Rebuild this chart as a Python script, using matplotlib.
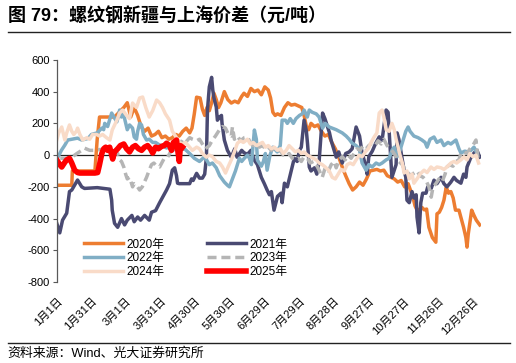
import matplotlib
matplotlib.use("Agg")
import matplotlib.pyplot as plt

plt.rcParams['font.family'] = ['Liberation Sans', 'Noto Sans CJK SC', 'DejaVu Sans']
plt.rcParams['axes.unicode_minus'] = False

# Day-of-year positions (0 = 1月1日) and spread values (元/吨)
tick_days = [0, 30, 60, 90, 120, 150, 180, 210, 240, 270, 300, 330, 360]
tick_labels = ['1月1日', '1月31日', '3月1日', '3月31日', '4月30日', '5月30日', '6月29日',
               '7月29日', '8月28日', '9月27日', '10月27日', '11月26日', '12月26日']

days_2020 = [0, 13, 13.5, 33, 35, 37, 50, 54, 58, 61, 64, 67, 70, 73, 76, 79, 82, 85, 88, 91,
             94, 97, 100, 103, 106, 109, 112, 115, 117, 119, 121, 124, 126, 128, 130, 132, 134,
             136, 138, 140, 142, 145, 148, 151, 154, 157, 160, 162, 165, 168, 171, 174, 177, 180,
             183, 185, 187, 189, 191, 194, 197, 200, 203, 206, 209, 212, 214, 216, 218, 220, 223,
             226, 229, 232, 235, 238, 241, 244, 247, 250, 253, 256, 259, 262, 265, 268, 271, 274,
             277, 280, 283, 286, 289, 292, 295, 298, 301, 304, 306, 308, 310, 312, 314, 316, 318,
             320, 322, 325, 328, 329, 331, 333, 335, 337, 339, 341, 343, 345, 348, 350, 352, 354,
             355, 356, 358, 359, 361, 363, 365, 366]
vals_2020 = [-190, -190, -100, -100, 100, 240, 240, 270, 300, 330, 240, 300, 250, 180, 150, 170,
             120, 130, 150, 110, 120, 100, 110, 130, 120, 150, 170, 140, 170, 260, 365, 360, 290,
             250, 300, 280, 330, 390, 350, 300, 330, 400, 350, 328, 340, 330, 370, 390, 370, 420,
             400, 410, 380, 430, 410, 360, 270, 250, 260, 250, 300, 330, 315, 320, 310, 300, 250,
             180, 160, 200, 180, 190, 150, 120, 130, 80, 40, -13, -75, -130, -180, -220, -200,
             -170, -190, -150, -100, -95, -90, -100, -95, -130, -140, -150, -170, -160, -200,
             -180, -220, -260, -320, -350, -340, -330, -345, -340, -455, -520, -549, -370, -360,
             -330, -284, -202, -240, -230, -270, -347, -347, -400, -455, -520, -580, -500, -400,
             -347, -380, -410, -430, -440]

days_2021 = [0, 2.6, 5, 8.6, 11, 13, 18, 21.6, 24, 35, 46, 47.5, 48, 50, 52.7, 56, 58.7, 61, 65,
             67, 70, 72.5, 76, 78.6, 80, 82, 85.5, 89, 92, 95, 97.6, 100, 102, 103.6, 104.5, 106,
             115, 116.6, 118, 121, 123.5, 126, 128, 129.5, 130.4, 132, 134, 135, 136, 138, 139,
             141, 142.5, 143, 145, 147.7, 151, 154, 156, 160, 162, 165, 168, 171, 173.6, 177,
             179.6, 182, 184, 185.7, 188, 191, 194, 195, 197, 199.5, 203, 205.5, 208, 210, 211.6,
             214, 216, 217, 218.5, 220, 223, 225, 227, 230, 232, 236, 237.5, 241.8, 244, 247, 250,
             253, 255.6, 259, 262, 264, 267.6, 268.5, 270, 273, 276, 279, 281.5, 285, 286.7,
             287.6, 289, 290, 293.6, 294.5, 296, 299, 300.5, 302, 303, 305, 307.4, 309, 311,
             311.7, 313.5, 315, 316.6, 319.5, 321, 324, 326.4, 329, 332.5, 335, 337.6, 341, 343.7,
             346, 349.7, 352, 354, 355, 358, 361, 363.6, 366]
vals_2021 = [-430, -490, -410, -366, -230, -220, -157, -200, -210, -205, -215, -284, -347, -430,
             -455, -400, -440, -410, -380, -420, -390, -410, -380, -400, -410, -360, -350, -300,
             -260, -220, -180, -95, -80, -130, -177, -180, -180, -150, -160, -115, -145, -145,
             -120, -13, 284, 430, 490, 410, 360, 303, 220, 240, 250, 200, 95, 30, -13, 40, -13,
             30, 15, 5, 30, -32, -60, -140, -180, -220, -250, -230, -347, -260, -240, -300, -177,
             -200, -95, -20, -40, 30, 50, 220, 150, 70, -75, -100, -80, -120, -40, 265, 230, 140,
             90, -13, 20, -50, 10, 20, 40, 177, 120, 20, -75, -120, -10, 25, 75, 115, 95, 284,
             270, 150, -20, -140, -60, 140, 100, -30, -95, -140, -284, -300, -230, -270, -250,
             -390, -490, -300, -240, -240, -200, -210, -158, -180, -140, -180, -200, -170, -140,
             -160, -177, -120, -140, -75, -20, 13, 30, -13]

days_2022 = [1, 4, 7, 9.5, 13, 18, 21.6, 27, 30, 35, 39, 40.6, 41.5, 44, 46, 47.5, 50, 52, 53.5,
             54.4, 56, 57, 58.7, 60.4, 61, 63, 65.6, 67, 69, 70, 71.7, 73.4, 75, 77.7, 80, 83,
             85.5, 89, 91.5, 95, 97.6, 100, 103.6, 106, 110.5, 115, 119, 123.5, 128, 132, 134.7,
             138, 141, 145, 147.7, 149.4, 152, 154.6, 158, 160, 162.3, 165, 166.7, 168.4, 171,
             172.7, 173.6, 177, 178.8, 180.5, 182, 184.5, 187, 190.8, 193.4, 195, 197.8, 199.5,
             202, 204.7, 207, 210, 212.4, 214, 216.8, 218.5, 221, 224.5, 227, 230, 232.3, 235.8,
             238.3, 241.8, 244.4, 247, 250.4, 253, 255.6, 259, 261.7, 264.2, 267.7, 270, 272.9,
             276.3, 279, 281.5, 285, 287.6, 290, 292, 294.5, 297, 300.5, 302, 304, 305.7, 309,
             312.6, 316, 318.7, 320.4, 323, 326.4, 329, 332.5, 335, 338.5, 341, 343.7, 345.4,
             348, 349.7, 353, 355.8, 358.4, 361, 363.6]
vals_2022 = [-13, 30, 63, 95, 100, 107, 95, 105, 130, 140, 170, 160, 200, 180, 230, 265, 233,
             210, 250, 284, 240, 270, 230, 177, 160, 190, 170, 114, 100, 150, 200, 190, 130, 95,
             100, 80, 80, 63, 60, 45, 50, 30, 40, 30, 40, 10, -20, -40, -10, -60, -50, -80, -130,
             -170, -190, -200, -150, -100, -20, -40, -20, 0, -20, -60, 158, 100, -32, -70, -40,
             10, -95, 0, 50, 20, 60, 220, 220, 200, 230, 200, 230, 250, 260, 284, 240, 284, 270,
             260, 240, 170, 200, 177, 170, 160, 150, 140, 120, 100, 75, 60, 40, -50, -95, -60,
             -75, -50, -60, -50, -30, -20, 30, 50, -10, 30, 114, 150, 177, 150, 120, 110, 95, 80,
             50, 100, 114, 80, 95, 60, 80, 70, 85, 95, 40, 13, 25, 20, 30, 50, 13]

days_2023 = [3, 12, 15.5, 18, 21.6, 24, 28.5, 33, 37, 41.5, 46, 50, 52.7, 54.4, 56, 58, 59.6, 61,
             63, 65.6, 67, 69, 71.7, 74, 77.7, 80, 82, 84, 86.4, 89, 91.5, 93, 96, 98.4, 101,
             103.6, 106, 108.8, 111.4, 115, 117.4, 121, 123.5, 126, 128.7, 132, 134.7, 137.3,
             140.8, 143.4, 146, 148.5, 151, 152, 153.7, 156.3, 159, 162.3, 165, 167.5, 170,
             172.7, 175.3, 178, 180.5, 183, 185.7, 188.3, 190.8, 193.4, 196, 198.6, 201, 203.8,
             206.4, 209, 211.6, 214, 216.8, 219.3, 222, 224.5, 227, 229.7, 232.3, 235, 237.5,
             240, 241.8, 244.4, 247, 249.6, 252, 254.7, 257.3, 260, 262.5, 265, 267.7, 270, 273,
             275.5, 278, 280.7, 283, 285.8, 288.4, 291, 293.6, 296, 299, 301.4, 304, 306.6, 309,
             311.7, 314.3, 317, 319.5, 322, 324, 325.6, 328, 330.7, 333.3, 336, 337.6, 340,
             342.8, 345.4, 348, 349.7, 352.3, 355, 357.5, 360, 362.7, 364.5]
vals_2023 = [-20, -20, 0, 13, 30, 44, 30, 30, 35, 35, 30, 25, 10, -30, -40, -75, -120, -150,
             -140, -200, -180, -190, -220, -200, -140, -95, -60, -50, -70, -75, -40, -20, -13, 20,
             40, 50, 60, 95, 80, 110, 100, 90, 100, 70, 40, 60, 95, 120, 160, 180, 170, 130, 120,
             177, 100, 120, 90, 110, 114, 80, 60, 70, 50, 60, 40, 50, 30, 45, 20, 30, 0, -10, 10,
             -20, -30, -20, -40, -10, -20, -50, -40, -60, -95, -140, -80, -100, -60, -40, -80,
             -30, -10, -30, 0, -20, 10, 40, 30, 60, 40, 60, 75, 60, 90, 70, 100, 60, 40, 20, -10,
             -40, -60, -90, -113, -130, -113, -100, -130, -140, -160, -200, -265, -200, -180,
             -150, -170, -120, -75, -60, -70, -40, -30, 13, 20, 10, 40, 60, 95, -20]

days_2024 = [0, 1.7, 4.3, 7, 8.6, 11, 13, 14.7, 17, 18, 20, 22.5, 26, 28.5, 31, 34.5, 37, 39.7,
             43, 46, 48, 52, 54.4, 57, 60.4, 63, 65.6, 69, 71.7, 74.3, 77, 80, 83, 86.4, 89, 91.5,
             94, 97.6, 100, 103.6, 106, 108.8, 111.4, 115, 117.4, 121, 123.5, 126, 129.5, 132,
             134.7, 138, 141, 143.4, 146, 148.5, 151, 153.7, 156.3, 159, 161.5, 165, 167.5, 170,
             172.7, 175.3, 178, 180.5, 183, 185.7, 188.3, 190.8, 193.4, 196, 198.6, 201, 203.8,
             206.4, 209, 211.6, 214, 216.8, 219.3, 222, 224.5, 227, 229.7, 232.3, 235.8, 238.3,
             241, 243.5, 246, 248.7, 251.3, 253.9, 256.5, 259, 261.7, 264.2, 267, 269.5, 272,
             274.6, 277, 279, 281.5, 283, 285, 287.6, 290, 292, 293.6, 295.3, 297, 299, 300.5,
             303, 305, 307.4, 309, 311.7, 314.3, 317.8, 320.4, 323.8, 326.4, 329, 332.5, 335,
             337.6, 341, 343.7, 346, 349.7, 352.3, 355, 357.5, 360, 362.7, 365]
vals_2024 = [95, 140, 177, 95, 140, 190, 150, 130, 150, 170, 130, 95, 110, 100, 130, 130, 120,
             130, 110, 95, 158, 220, 265, 284, 250, 230, 328, 300, 360, 366, 300, 240, 280, 347,
             330, 300, 260, 220, 150, 110, 80, 70, 80, 50, 30, 50, 40, 10, -13, 0, -10, -40, -50,
             -75, -113, -70, -30, 20, 75, 90, 80, 100, 70, 80, 60, 70, 80, 50, 60, 40, 50, 30, 40,
             10, 30, 60, 40, 20, 30, 10, 20, 0, -10, -20, -30, -50, -60, -75, -100, -140, -150,
             -120, -90, -100, -60, -50, -60, -30, 0, -10, 20, 40, 80, 114, 140, 265, 284, 240,
             160, 150, 200, 160, 100, 50, 0, -50, -113, -100, -150, -120, -177, -150, -120, -95,
             -110, -75, -90, -75, -80, -90, -75, -50, -40, -50, -30, -10, -30, 10, -10, 0, -50]

days_2025 = [0, 2.6, 4.3, 7, 8.6, 11, 13, 15.5, 18, 20, 24, 28.5, 33, 35.4, 37, 39, 40.6, 42.3,
             44, 45.8, 47.5, 48.4, 50, 52.7, 55, 58, 60.4, 63, 65.6, 68, 70.8, 73.4, 76, 78.6, 81,
             83, 85.5, 88, 90.7, 93, 95, 97.6, 99.3, 101, 103.6, 104.5, 106, 107, 108.8]
vals_2025 = [-30, -60, -75, -45, -30, -20, -50, -95, -110, -113, -113, -113, -113, -110, -60,
             10, 40, 50, 30, 50, 0, -25, 20, 40, 60, 70, 40, 20, 50, 60, 40, 30, 50, 60, 40, 13,
             50, 40, 55, 60, 75, 60, 30, 80, 95, 40, -40, 60, 50]

series = [
    ('2020年', days_2020, vals_2020, '#ED7D31', '-', 2.5),
    ('2021年', days_2021, vals_2021, '#4A4A72', '-', 2.5),
    ('2022年', days_2022, vals_2022, '#80AEC5', '-', 2.5),
    ('2023年', days_2023, vals_2023, '#B5B5B5', '--', 2.5),
    ('2024年', days_2024, vals_2024, '#F9DBC8', '-', 2.5),
    ('2025年', days_2025, vals_2025, '#FF0000', '-', 4.0),
]

fig = plt.figure(figsize=(5.16, 3.63), dpi=100)
ax = fig.add_axes([0.110, 0.223, 0.822, 0.612])

ax.axhline(0, color='#222222', lw=0.9, zorder=1)
lines = {}
for name, d, v, color, ls, lw in series:
    ln, = ax.plot(d, v, color=color, ls=ls, lw=lw, label=name, zorder=2,
                  solid_joinstyle='round', dashes=(2.6, 1.4) if ls == '--' else (None, None))
    lines[name] = ln

ax.set_xlim(0, 367)
ax.set_ylim(-800, 600)
ax.set_yticks(range(-800, 601, 200))
ax.tick_params(axis='y', labelsize=8, length=3, width=0.8, color='#595959', pad=2)
ax.set_xticks(tick_days)
ax.set_xticklabels(tick_labels, rotation=45, ha='right', rotation_mode='anchor', fontsize=8)
ax.tick_params(axis='x', length=0, pad=10)

for side in ['top', 'right', 'bottom']:
    ax.spines[side].set_visible(False)
ax.spines['left'].set_color('#595959')
ax.spines['left'].set_linewidth(0.9)

# legend filled row by row: 2020/2021, 2022/2023, 2024/2025
order = ['2020年', '2022年', '2024年', '2021年', '2023年', '2025年']
ax.legend([lines[k] for k in order], order, loc='lower left', bbox_to_anchor=(0.04, -0.03),
          ncol=2, frameon=False, fontsize=8.5, handlelength=3.3, columnspacing=3.6,
          labelspacing=0.15, handletextpad=0.3)

fig.text(0.016, 0.955, '图 79：螺纹钢新疆与上海价差（元/吨）', fontsize=13,
         fontweight='bold', va='center', ha='left')
fig.add_artist(plt.Line2D([0.016, 0.988], [0.912, 0.912], color='#222222', lw=1.0))
fig.add_artist(plt.Line2D([0.016, 0.988], [0.055, 0.055], color='#222222', lw=1.0))
fig.text(0.014, 0.027, '资料来源：Wind、光大证券研究所', fontsize=9.3, va='center', ha='left')

fig.savefig('out.png', dpi=100)
